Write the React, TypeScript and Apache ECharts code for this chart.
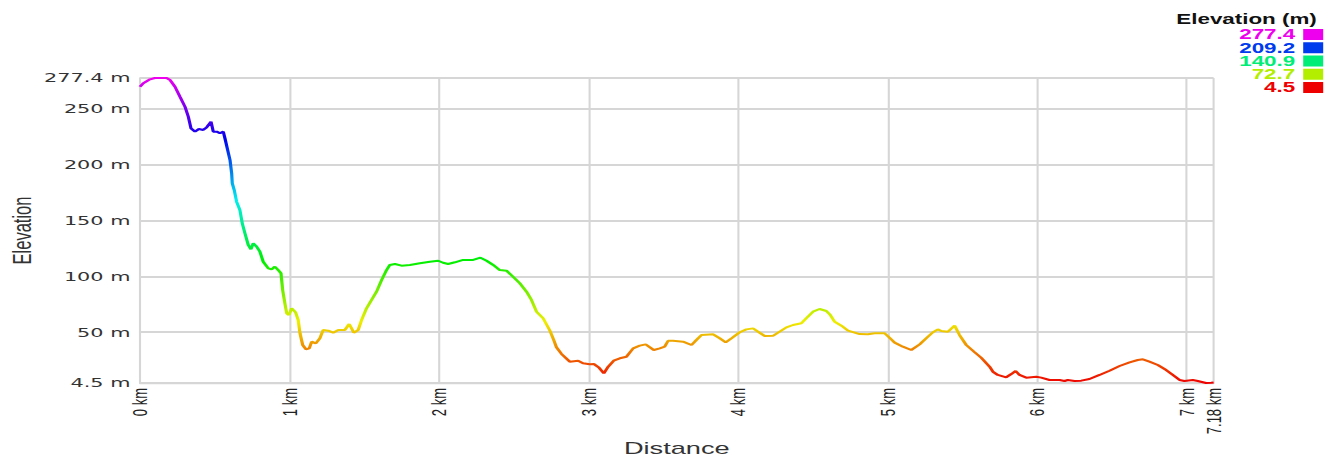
import React, { useEffect, useRef } from "react";
import * as echarts from "echarts";

// ---- data ----
const distanceKm = [
  0, 0.022, 0.067, 0.1, 0.14, 0.178, 0.201, 0.234, 0.267, 0.301, 0.323, 0.341, 0.368, 0.394, 0.423, 0.446,
  0.475, 0.49, 0.513, 0.535, 0.557, 0.568, 0.586, 0.602, 0.613, 0.617, 0.63, 0.646, 0.668, 0.684, 0.702,
  0.724, 0.742, 0.757, 0.78, 0.802, 0.824, 0.858, 0.88, 0.902, 0.924, 0.943, 0.954, 0.969, 0.981, 0.996,
  1.014, 1.041, 1.058, 1.07, 1.088, 1.11, 1.132, 1.148, 1.176, 1.203, 1.225, 1.259, 1.292, 1.326, 1.37,
  1.399, 1.415, 1.43, 1.459, 1.482, 1.515, 1.549, 1.582, 1.616, 1.649, 1.671, 1.705, 1.749, 1.805, 1.872,
  1.939, 1.994, 2.027, 2.061, 2.106, 2.161, 2.228, 2.277, 2.318, 2.362, 2.406, 2.451, 2.495, 2.54, 2.585,
  2.618, 2.652, 2.696, 2.741, 2.767, 2.785, 2.819, 2.874, 2.93, 2.963, 3.008, 3.035, 3.07, 3.102, 3.131,
  3.168, 3.209, 3.253, 3.298, 3.342, 3.382, 3.436, 3.476, 3.509, 3.532, 3.565, 3.632, 3.688, 3.71, 3.755,
  3.832, 3.877, 3.917, 3.955, 4.011, 4.055, 4.1, 4.144, 4.178, 4.233, 4.278, 4.323, 4.367, 4.423, 4.456,
  4.501, 4.545, 4.59, 4.617, 4.646, 4.691, 4.735, 4.813, 4.868, 4.913, 4.98, 5.013, 5.047, 5.102, 5.158,
  5.214, 5.269, 5.303, 5.336, 5.359, 5.403, 5.448, 5.481, 5.526, 5.582, 5.626, 5.682, 5.704, 5.737, 5.793,
  5.827, 5.856, 5.882, 5.927, 5.994, 6.027, 6.083, 6.15, 6.183, 6.205, 6.25, 6.295, 6.35, 6.417, 6.484,
  6.551, 6.618, 6.673, 6.707, 6.751, 6.807, 6.863, 6.907, 6.952, 6.985, 7.041, 7.074, 7.13, 7.164, 7.18,
];

const elevationM = [
  269.6, 272.7, 276.2, 277.4, 277.4, 277.4, 275.6, 269.6, 260.7, 251.7, 242.8, 232.4, 229.4, 231.8, 230.9, 233.3,
  238.3, 229.4, 229.4, 227.9, 229.4, 223.5, 213.0, 204.0, 192.1, 183.2, 177.2, 166.7, 159.3, 147.4, 138.4,
  128.0, 124.1, 129.5, 126.5, 122.0, 113.0, 107.1, 106.2, 108.6, 105.6, 102.7, 87.7, 75.8, 66.9, 65.3,
  71.3, 67.5, 60.9, 49.0, 38.5, 34.7, 35.5, 41.5, 40.0, 44.5, 51.9, 51.3, 49.5, 51.9, 51.9,
  57.3, 53.4, 49.5, 51.9, 60.9, 71.3, 78.8, 86.2, 96.7, 105.6, 110.1, 111.0, 109.5, 110.1, 111.6,
  113.0, 113.9, 112.1, 111.0, 112.5, 114.6, 114.6, 116.6, 113.9, 110.1, 105.6, 105.0, 99.6, 93.7, 86.2,
  78.8, 68.3, 62.4, 51.5, 43.0, 36.5, 30.5, 23.6, 24.5, 22.1, 21.2, 21.5, 18.2, 13.2, 19.1,
  24.5, 26.6, 28.0, 35.5, 37.9, 39.1, 34.0, 35.5, 37.0, 42.3, 42.3, 41.5, 38.5, 41.5, 47.4,
  48.1, 44.5, 40.9, 44.5, 49.9, 52.5, 53.4, 49.5, 46.6, 46.7, 50.5, 54.3, 56.4, 57.9, 62.4,
  68.3, 70.7, 68.9, 65.3, 59.3, 55.8, 51.3, 48.3, 48.1, 49.0, 49.0, 45.0, 40.6, 37.0, 34.0,
  39.1, 45.9, 49.9, 52.5, 51.0, 50.4, 55.8, 47.4, 38.5, 32.0, 27.1, 19.1, 14.6, 11.7, 9.6,
  12.5, 15.2, 11.7, 9.3, 10.1, 9.3, 7.2, 7.2, 6.3, 7.2, 6.3, 6.6, 8.1, 11.7, 15.5,
  19.7, 23.0, 25.1, 25.7, 23.6, 20.6, 16.1, 11.7, 7.2, 6.3, 7.2, 6.3, 4.5, 4.8, 5.0,
];

const elevMin = 4.5;
const elevMax = 277.4;
const distMax = 7.18;
const distInterval = 1;
const legendTitle = "Elevation (m)";
const legendValues = [277.4, 209.2, 140.9, 72.7, 4.5];
const xAxisName = "Distance";
const yAxisName = "Elevation";

// ---- layout / style ----
const PAGE_W = 1330;
const PAGE_H = 459;
const STRETCH = 1.6; // reference is horizontally stretched
const W0 = PAGE_W / STRETCH;
const FONT = "'Liberation Sans', Arial, Helvetica, sans-serif";
const WIDE_FONT = "'DejaVu Sans', Verdana, sans-serif";

function hsv(h: number, v = 0.933): string {
  const c = v;
  const hp = (h % 360) / 60;
  const x = c * (1 - Math.abs((hp % 2) - 1));
  let r = 0, g = 0, b = 0;
  if (hp < 1) { r = c; g = x; }
  else if (hp < 2) { r = x; g = c; }
  else if (hp < 3) { g = c; b = x; }
  else if (hp < 4) { g = x; b = c; }
  else if (hp < 5) { r = x; b = c; }
  else { r = c; b = x; }
  const to = (n: number) => Math.round(n * 255).toString(16).padStart(2, "0");
  return "#" + to(r) + to(g) + to(b);
}
const colorFor = (val: number) => hsv((300 * (val - elevMin)) / (elevMax - elevMin));
const rampColors = Array.from({ length: 11 }, (_, i) => hsv(i * 30));

export default function App() {
  const ref = useRef<HTMLDivElement>(null);
  useEffect(() => {
    if (!ref.current) return;
    const chart = echarts.init(ref.current, null, { renderer: "svg" });
    const data = distanceKm.map((d, i) => [d, elevationM[i]]);

    const legendRight = 823;
    const valueRight = 809.5;
    const rowTop = 29;
    const rowStep = 13.25;
    const graphics: any[] = [
      {
        type: "text",
        x: legendRight,
        y: 19,
        style: {
          text: legendTitle,
          align: "right",
          verticalAlign: "middle",
          fill: "#111",
          font: `bold 14px ${FONT}`,
        },
      },
    ];
    legendValues.forEach((v, i) => {
      const c = colorFor(v);
      graphics.push({
        type: "text",
        x: valueRight,
        y: rowTop + 5.5 + i * rowStep,
        style: {
          text: String(v),
          align: "right",
          verticalAlign: "middle",
          fill: c,
          font: `bold 14px ${FONT}`,
        },
      });
      graphics.push({
        type: "rect",
        shape: { x: 814.5, y: rowTop + i * rowStep, width: 12.5, height: 11 },
        style: { fill: c },
      });
    });

    chart.setOption({
      animation: false,
      grid: {
        left: 87.5,
        right: 72.5,
        top: 78,
        bottom: 76,
        containLabel: false,
        outerBoundsMode: "none",
      },
      visualMap: {
        type: "continuous",
        show: false,
        seriesIndex: 0,
        dimension: 1,
        min: elevMin,
        max: elevMax,
        inRange: { color: rampColors },
      },
      xAxis: {
        type: "value",
        min: 0,
        max: distMax,
        interval: distInterval,
        name: xAxisName,
        nameLocation: "middle",
        nameGap: 57,
        nameMoveOverlap: false,
        nameTextStyle: { fontFamily: FONT, fontSize: 17, color: "#333", lineHeight: 17 },
        axisLine: { show: true, lineStyle: { color: "#d6d6d6", width: 1.3 } },
        axisTick: { show: false },
        axisLabel: {
          rotate: 90,
          margin: 5,
          fontFamily: FONT,
          fontSize: 13,
          color: "#222",
          formatter: (v: number) => `${v} km`,
        },
        splitLine: { show: true, lineStyle: { color: "#d6d6d6", width: 1.3 } },
      },
      yAxis: {
        type: "value",
        min: elevMin,
        max: elevMax,
        name: yAxisName,
        nameLocation: "middle",
        nameRotate: 90,
        nameGap: 65,
        nameMoveOverlap: false,
        nameTextStyle: {
          fontFamily: "'Liberation Sans Narrow', 'Arial Narrow', 'Liberation Sans', Arial, sans-serif",
          fontSize: 16.5,
          color: "#333",
        },
        axisLine: { show: true, lineStyle: { color: "#d6d6d6", width: 1.3 } },
        axisTick: { show: false },
        axisLabel: {
          margin: 6,
          fontFamily: WIDE_FONT,
          fontSize: 13,
          color: "#333",
          formatter: (v: number) => `${v} m`,
        },
        splitLine: { show: true, lineStyle: { color: "#d6d6d6", width: 2 } },
      },
      series: [
        {
          type: "line",
          data,
          showSymbol: false,
          smooth: false,
          lineStyle: { width: 2 },
        },
      ],
      graphic: graphics,
    });
    return () => chart.dispose();
  }, []);

  return (
    <div
      ref={ref}
      style={{
        position: "absolute",
        left: 0,
        top: 0,
        width: W0,
        height: PAGE_H,
        transform: `scaleX(${STRETCH})`,
        transformOrigin: "0 0",
      }}
    />
  );
}
